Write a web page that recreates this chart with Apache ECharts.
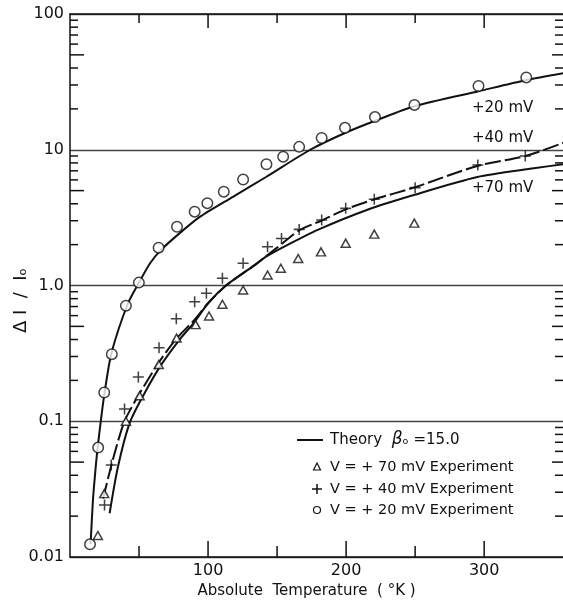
<!DOCTYPE html>
<html>
<head>
<meta charset="utf-8">
<script src="https://cdn.jsdelivr.net/npm/echarts@6/dist/echarts.min.js"></script>
<style>
html,body{margin:0;padding:0;background:#fff;overflow:hidden;}
#chart{width:563px;height:601px;}
</style>
</head>
<body>
<div id="chart"></div>
<script>
// ---- data ----
// experiment, V = +20 mV (circles)
var exp20T = [14.5, 20.4, 24.8, 30.3, 40.5, 49.9, 64.2, 77.5, 90.3, 99.5, 111.4, 125.4, 142.3, 154.4, 166, 182.3, 199.2, 220.9, 249.5, 295.9, 330.5];
var exp20V = [0.0124, 0.064, 0.163, 0.312, 0.71, 1.05, 1.90, 2.71, 3.50, 4.04, 4.91, 6.04, 7.82, 8.89, 10.5, 12.2, 14.5, 17.4, 21.4, 29.5, 34.1];
// experiment, V = +40 mV (crosses)
var exp40T = [25, 29.9, 39.5, 49.5, 64.5, 77, 90.3, 98.8, 110.4, 125.4, 143.1, 153.2, 166, 182.3, 199.7, 220.4, 250, 295.4, 329.8];
var exp40V = [0.0242, 0.0476, 0.123, 0.212, 0.348, 0.568, 0.76, 0.876, 1.13, 1.457, 1.93, 2.22, 2.59, 3.04, 3.70, 4.32, 5.26, 7.72, 8.99];
// experiment, V = +70 mV (triangles)
var exp70T = [20.2, 24.8, 40.5, 50.4, 64.3, 77.2, 91, 100.7, 110.4, 125.4, 143.1, 152.7, 165.3, 181.8, 199.7, 220.4, 249.4];
var exp70V = [0.0144, 0.0293, 0.100, 0.154, 0.262, 0.41, 0.515, 0.596, 0.727, 0.927, 1.195, 1.34, 1.58, 1.77, 2.05, 2.39, 2.88];
// theory curves, beta0 = 15.0
var th20T = [14.9, 16.6, 17.8, 19.8, 22.6, 25, 30, 42, 50.4, 58, 66, 78, 94, 118, 142, 174, 200, 222, 250, 296, 330, 360];
var th20V = [0.0125, 0.026, 0.037, 0.061, 0.106, 0.161, 0.317, 0.74, 1.07, 1.46, 1.83, 2.36, 3.2, 4.5, 6.3, 10, 13.4, 16.5, 21, 27, 32.5, 37];
var th40T = [24, 31, 39.5, 50.4, 63.7, 77, 90.3, 100, 113, 134, 150, 166, 182, 200, 220, 250, 295, 330, 360];
var th40V = [0.027, 0.052, 0.10, 0.16, 0.265, 0.405, 0.56, 0.74, 1.0, 1.42, 1.9, 2.55, 3.0, 3.65, 4.3, 5.3, 7.6, 9.0, 11.5];
var th70T = [28.7, 34.7, 43.2, 54, 66, 79.4, 90.3, 100, 113, 134, 142, 160, 179, 215, 249, 295, 336, 360];
var th70V = [0.021, 0.046, 0.097, 0.161, 0.26, 0.40, 0.54, 0.74, 1.0, 1.42, 1.63, 2.05, 2.56, 3.6, 4.64, 6.3, 7.3, 7.9];
// axis ticks and labels
var xTickValues = [50, 100, 150, 200, 250, 300];
var xMajorTicks = [100, 200, 300];
var xTickLabels = {100: '100', 200: '200', 300: '300'};
var yTickLabels = {0.01: '0.01', 0.1: '0.1', 1: '1.0', 10: '10', 100: '100'};
var yMinorTickValues = [0.02, 0.03, 0.04, 0.05, 0.06, 0.07, 0.08, 0.09,
                        0.2, 0.3, 0.4, 0.5, 0.6, 0.7, 0.8, 0.9,
                        2, 3, 4, 5, 6, 7, 8, 9,
                        20, 30, 40, 50, 60, 70, 80, 90];
var yLongTicks = [0.05, 0.5, 5, 50];

function pairs(xs, ys) { return xs.map(function (x, i) { return [x, ys[i]]; }); }

var FONT = 'DejaVu Sans';
var INK = '#111';
var plusPath = 'path://M4.3,0H5.7V4.3H10V5.7H5.7V10H4.3V5.7H0V4.3H4.3Z';

var chart = echarts.init(document.getElementById('chart'), null, {renderer: 'canvas'});

var xTickData = xTickValues.map(function (v) { return [v, 0.01, xMajorTicks.indexOf(v) >= 0 ? 1 : 0]; });
var yTickData = yMinorTickValues.map(function (v) { return [0, v, yLongTicks.indexOf(v) >= 0 ? 1 : 0]; });

var option = {
  animation: false,
  backgroundColor: '#fff',
  grid: {left: 70, top: 14, right: -4, bottom: 44, show: false,
         containLabel: false, outerBoundsMode: 'none'},
  xAxis: [{
    type: 'value', min: 0, max: 360, interval: 50,
    axisLine: {lineStyle: {color: INK, width: 1.5}},
    axisTick: {show: false},
    splitLine: {show: false},
    axisLabel: {
      margin: 6, color: INK, fontFamily: FONT, fontSize: 16,
      formatter: function (v) { return xTickLabels[v] || ''; }
    },
    name: 'Absolute  Temperature  ( °K )',
    nameLocation: 'middle', nameGap: 27,
    nameTextStyle: {color: INK, fontFamily: FONT, fontSize: 15, padding: [0, 24, 0, 0]}
  }, {
    type: 'value', position: 'top', min: 0, max: 360,
    axisLine: {show: true, onZero: false, lineStyle: {color: INK, width: 1.5}},
    axisTick: {show: false}, axisLabel: {show: false}, splitLine: {show: false}
  }],
  yAxis: {
    type: 'log', logBase: 10, min: 0.01, max: 100,
    axisLine: {show: true, lineStyle: {color: INK, width: 1.5}},
    axisTick: {show: false},
    minorTick: {show: false},
    splitLine: {show: true, lineStyle: {color: '#444', width: 1.3}},
    axisLabel: {
      margin: 6, color: INK, fontFamily: FONT, fontSize: 16,
      formatter: function (v) {
        var keys = Object.keys(yTickLabels);
        for (var i = 0; i < keys.length; i++) {
          if (Math.abs(Math.log10(v) - Math.log10(+keys[i])) < 1e-6) return yTickLabels[keys[i]];
        }
        return '';
      }
    },
    name: 'Δ I  /  Iₒ',
    nameLocation: 'middle', nameGap: 40, nameMoveOverlap: false,
    nameTextStyle: {color: INK, fontFamily: FONT, fontSize: 18, padding: [0, 30, 0, 0]}
  },
  series: [
    {
      type: 'custom', name: 'xticks', coordinateSystem: 'cartesian2d',
      encode: {x: 0, y: 1}, silent: true, z: 5,
      renderItem: function (params, api) {
        var cs = params.coordSys;
        var px = api.coord([api.value(0), 1])[0];
        var len = api.value(2) ? 16 : 11;
        var st = {stroke: INK, lineWidth: 1.5};
        return {type: 'group', children: [
          {type: 'line', shape: {x1: px, y1: cs.y + cs.height, x2: px, y2: cs.y + cs.height - len}, style: st},
          {type: 'line', shape: {x1: px, y1: cs.y, x2: px, y2: cs.y + len - 2}, style: st}
        ]};
      },
      data: xTickData
    },
    {
      type: 'custom', name: 'yticks', coordinateSystem: 'cartesian2d',
      encode: {x: 0, y: 1}, silent: true, z: 5,
      renderItem: function (params, api) {
        var cs = params.coordSys;
        var py = api.coord([0, api.value(1)])[1];
        var long = api.value(2);
        var st = {stroke: INK, lineWidth: 1.5};
        return {type: 'group', children: [
          {type: 'line', shape: {x1: cs.x, y1: py, x2: cs.x + (long ? 14 : 8), y2: py}, style: st},
          {type: 'line', shape: {x1: cs.x + cs.width, y1: py, x2: cs.x + cs.width - (long ? 15 : 12), y2: py}, style: st}
        ]};
      },
      data: yTickData
    },
    {
      type: 'line', name: 'Theory +20 mV', data: pairs(th20T, th20V),
      showSymbol: false, symbol: 'none', smooth: 0.25,
      lineStyle: {color: INK, width: 2}, z: 3
    },
    {
      type: 'line', name: 'Theory +40 mV', data: pairs(th40T, th40V),
      showSymbol: false, symbol: 'none', smooth: 0.25,
      lineStyle: {color: INK, width: 2, type: [16, 4]}, z: 3
    },
    {
      type: 'line', name: 'Theory +70 mV', data: pairs(th70T, th70V),
      showSymbol: false, symbol: 'none', smooth: 0.25,
      lineStyle: {color: INK, width: 2}, z: 3
    },
    {
      type: 'scatter', name: 'V = +70 mV Experiment', data: pairs(exp70T, exp70V),
      symbol: 'triangle', symbolSize: [9, 8],
      itemStyle: {color: '#fff', borderColor: INK, borderWidth: 1.5}, z: 4
    },
    {
      type: 'scatter', name: 'V = +40 mV Experiment', data: pairs(exp40T, exp40V),
      symbol: plusPath, symbolSize: 11,
      itemStyle: {color: INK}, z: 4
    },
    {
      type: 'scatter', name: 'V = +20 mV Experiment', data: pairs(exp20T, exp20V),
      symbol: 'circle', symbolSize: 10.5,
      itemStyle: {color: '#fff', borderColor: INK, borderWidth: 1.5}, z: 4
    }
  ],
  graphic: [
    {type: 'text', left: 472, top: 101, style: {text: '+20 mV', fontFamily: FONT, fontSize: 15, fill: INK}},
    {type: 'text', left: 472, top: 131, style: {text: '+40 mV', fontFamily: FONT, fontSize: 15, fill: INK}},
    {type: 'text', left: 472, top: 181, style: {text: '+70 mV', fontFamily: FONT, fontSize: 15, fill: INK}},
    {type: 'line', shape: {x1: 297, y1: 440, x2: 323, y2: 440}, style: {stroke: INK, lineWidth: 2}},
    {type: 'text', x: 330, y: 440, style: {
      text: 'Theory  {b|β}{s|ₒ} =15.0', fontFamily: FONT, fontSize: 15, fill: INK, verticalAlign: 'middle',
      rich: {b: {fontFamily: FONT, fontSize: 17, fontStyle: 'italic', fill: INK}, s: {fontFamily: FONT, fontSize: 15, fill: INK}}
    }},
    {type: 'polygon', shape: {points: [[317, 463], [313.5, 470], [320.5, 470]]}, style: {fill: '#fff', stroke: INK, lineWidth: 1.2}},
    {type: 'text', x: 330, y: 467, style: {text: 'V = + 70 mV Experiment', fontFamily: FONT, fontSize: 14.5, fill: INK, verticalAlign: 'middle'}},
    {type: 'line', shape: {x1: 312, y1: 489, x2: 322, y2: 489}, style: {stroke: INK, lineWidth: 1.5}},
    {type: 'line', shape: {x1: 317, y1: 484, x2: 317, y2: 494}, style: {stroke: INK, lineWidth: 1.5}},
    {type: 'text', x: 330, y: 489, style: {text: 'V = + 40 mV Experiment', fontFamily: FONT, fontSize: 14.5, fill: INK, verticalAlign: 'middle'}},
    {type: 'circle', shape: {cx: 317, cy: 510, r: 3.5}, style: {fill: '#fff', stroke: INK, lineWidth: 1.2}},
    {type: 'text', x: 330, y: 510, style: {text: 'V = + 20 mV Experiment', fontFamily: FONT, fontSize: 14.5, fill: INK, verticalAlign: 'middle'}}
  ]
};
chart.setOption(option);
</script>
</body>
</html>
